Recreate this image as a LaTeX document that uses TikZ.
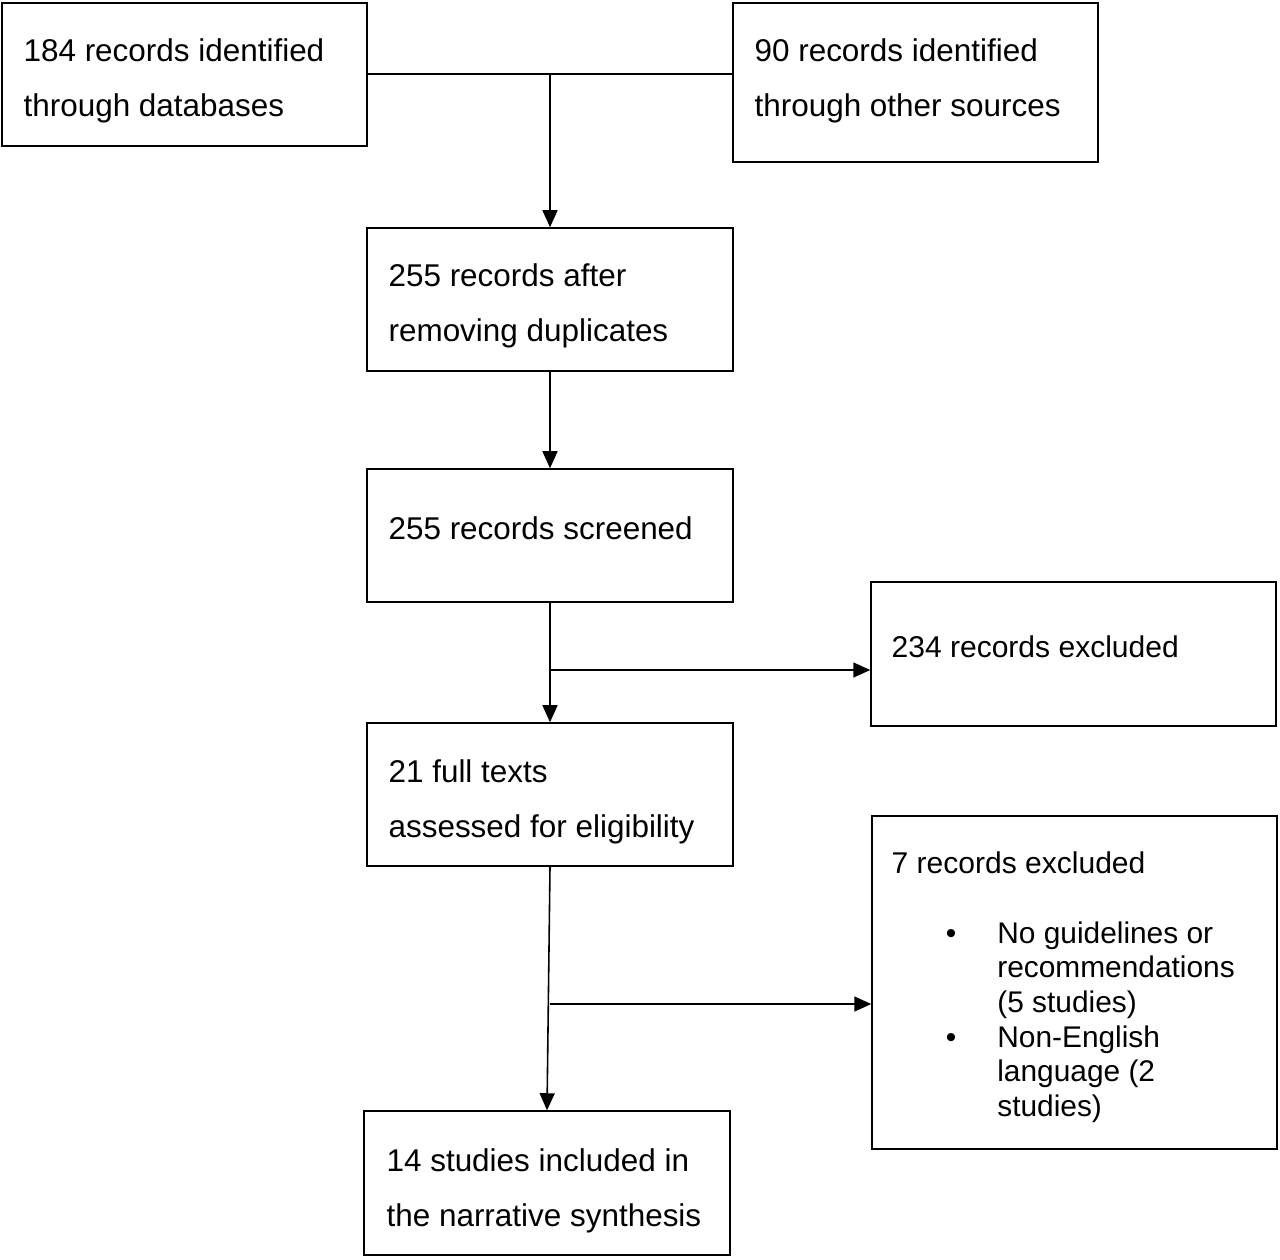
\documentclass[tikz,border=0pt]{standalone}
\usepackage{fontspec}
\setmainfont{Liberation Sans}
\usetikzlibrary{arrows.meta}
\tikzset{
  box/.style={draw, line width=0.9pt, inner sep=0pt},
  lbl/.style={anchor=north west, inner sep=0pt, align=left, font=\fontsize{17.9pt}{31.3pt}\selectfont},
  small/.style={lbl, font=\fontsize{17.1pt}{31.3pt}\selectfont},
  sub/.style={anchor=north west, inner sep=0pt, align=left, font=\fontsize{17pt}{19.7pt}\selectfont},
  >={Triangle[length=0.34cm, width=0.3cm]}
}
\begin{document}
\begin{tikzpicture}[x=0.02cm, y=-0.02cm]
		\useasboundingbox (0,0) rectangle (1280,1259);
		% boxes
		\node[box, minimum width=7.3cm, minimum height=2.86cm] (db) at (184.5,74.5) {};
		\node[box, minimum width=7.3cm, minimum height=3.18cm] (other) at (915.5,82.5) {};
		\node[box, minimum width=7.32cm, minimum height=2.86cm] (dedup) at (550,299.5) {};
		\node[box, minimum width=7.32cm, minimum height=2.66cm] (screen) at (550,535.5) {};
		\node[box, minimum width=8.1cm, minimum height=2.88cm] (excl) at (1073.5,654) {};
		\node[box, minimum width=7.32cm, minimum height=2.86cm] (full) at (550,794.5) {};
		\node[box, minimum width=8.1cm, minimum height=6.66cm] (exclfull) at (1074.5,982.5) {};
		\node[box, minimum width=7.32cm, minimum height=2.88cm] (incl) at (547,1183) {};
		% texts
		\node[lbl] (dbtxt) at ([shift={(22,36)}]db.north west) {184 records identified\\through databases};
		\node[lbl] (othertxt) at ([shift={(22,36)}]other.north west) {90 records identified\\through other sources};
		\node[lbl] (deduptxt) at ([shift={(22,36)}]dedup.north west) {255 records after\\removing duplicates};
		\node[lbl] (screentxt) at ([shift={(22,48)}]screen.north west) {255 records screened};
		\node[small] (excltxt) at ([shift={(21,54)}]excl.north west) {234 records excluded};
		\node[lbl] (fulltxt) at ([shift={(22,37)}]full.north west) {21 full texts\\assessed for eligibility};
		\node[small] (exclfulltxt) at ([shift={(20,36)}]exclfull.north west) {7 records excluded};
		\node[sub] (why1) at (997,921) {No guidelines or\\recommendations\\(5 studies)};
		\node[sub] (why2) at (997,1025) {Non-English\\language (2\\studies)};
		\node[sub, anchor=base] (dot1) at (951,943) {•};
		\node[sub, anchor=base] (dot2) at (951,1047) {•};
		\node[lbl] (incltxt) at ([shift={(23,38)}]incl.north west) {14 studies included in\\the narrative synthesis};
		% connectors
		\coordinate (j1) at (550,74);
		\coordinate (j2) at (550,670);
		\coordinate (j3) at (550,1004);
		\draw[line width=0.9pt] (j1 -| db.east) -- (j1 -| other.west);
		\draw[->, line width=0.9pt] (j1) -- (dedup.north);
		\draw[->, line width=0.9pt] (dedup.south) -- (screen.north);
		\draw[->, line width=0.9pt] (screen.south) -- (full.north);
		\draw[->, line width=0.9pt] (j2) -- (j2 -| excl.west);
		\draw[->, line width=0.9pt] (full.south) -- (incl.north);
		\draw[->, line width=0.9pt] (j3) -- (j3 -| exclfull.west);
	\end{tikzpicture}
\end{document}
